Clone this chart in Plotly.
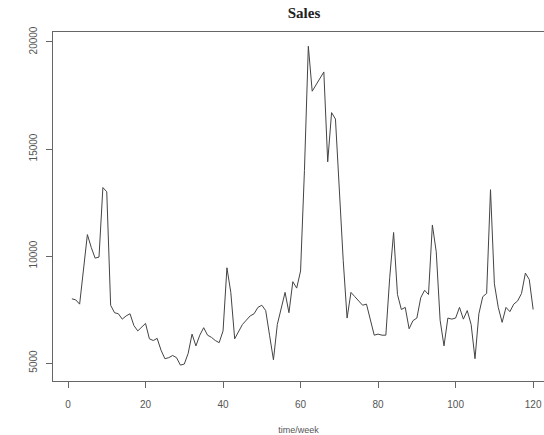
import plotly.graph_objects as go

weeks = list(range(1, 121))
sales = [
    8000, 7950, 7750, 9300, 11000, 10400, 9900, 9950, 13200, 13000,
    7700, 7350, 7300, 7050, 7200, 7300, 6750, 6500, 6700, 6850,
    6130, 6050, 6150, 5600, 5200, 5250, 5350, 5250, 4900, 4950,
    5450, 6350, 5800, 6300, 6650, 6300, 6200, 6050, 5950, 6500,
    9450, 8300, 6130, 6500, 6800, 7000, 7200, 7300, 7600, 7700,
    7450, 6300, 5150, 6800, 7550, 8300, 7350, 8800, 8500, 9300,
    14000, 19800, 17700, 18000, 18300, 18600, 14400, 16700, 16400, 13000,
    9800, 7100, 8300, 8100, 7900, 7700, 7750, 7000, 6300, 6350,
    6300, 6300, 9000, 11100, 8200, 7500, 7600, 6600, 6980, 7100,
    8050, 8400, 8200, 11450, 10200, 7000, 5800, 7100, 7050, 7100,
    7600, 7050, 7450, 6800, 5200, 7300, 8100, 8250, 13100, 8700,
    7600, 6900, 7600, 7400, 7750, 7900, 8250, 9200, 8900, 7500,
]
x_ticks = [0, 20, 40, 60, 80, 100, 120]
y_ticks = [5000, 10000, 15000, 20000]

fig = go.Figure()
fig.add_trace(go.Scatter(x=weeks, y=sales, mode="lines",
                         line=dict(color="#444444", width=1), hoverinfo="skip"))

axis_font = dict(family="Liberation Sans", size=10, color="#555555")
fig.update_layout(
    width=544, height=435,
    margin=dict(l=53, r=0, t=32, b=54, autoexpand=False),
    paper_bgcolor="white", plot_bgcolor="white",
    showlegend=False,
    title=dict(text="<b>Sales</b>", x=304/544, xref="container", xanchor="center",
               y=1-13/435, yref="container", yanchor="middle",
               font=dict(family="Liberation Serif", size=15, color="#222222")),
    xaxis=dict(range=[-3.87, 122.8], tickvals=x_ticks, ticks="outside", ticklen=6,
               tickcolor="#666666", showline=True, linecolor="#666666", linewidth=1,
               mirror=True, showgrid=False, zeroline=False, tickfont=axis_font,
               automargin=False, ticklabelstandoff=8,
               title=dict(text="time/week", font=dict(family="Liberation Sans", size=9, color="#555555"),
                          standoff=22)),
    yaxis=dict(range=[4159, 20467], tickvals=y_ticks, ticktext=[str(v) for v in y_ticks],
               ticks="outside", ticklen=6,
               tickcolor="#666666", showline=True, linecolor="#666666", linewidth=1,
               showgrid=False, zeroline=False, tickfont=axis_font, tickangle=-90,
               automargin=False, ticklabelstandoff=5),
)

fig.write_html("out.html", config={"displayModeBar": False},
               post_script="document.body.style.margin='0';document.body.style.overflow='hidden';")
